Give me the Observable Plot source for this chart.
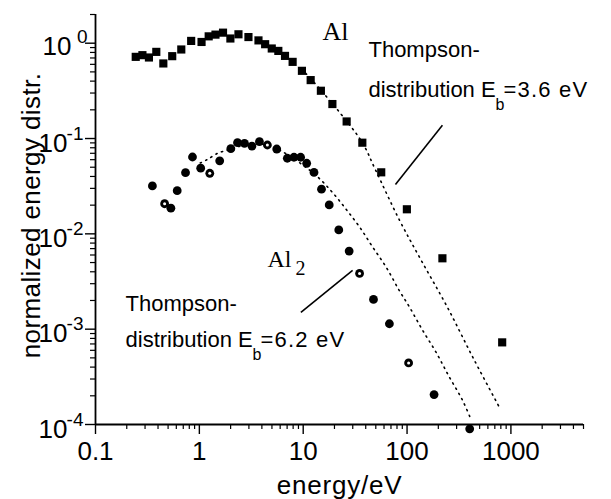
<!DOCTYPE html>
<html><head><meta charset="utf-8">
<script src="https://cdn.jsdelivr.net/npm/d3@7"></script>
<script src="https://cdn.jsdelivr.net/npm/@observablehq/plot@0.6"></script>
<style>
html,body{margin:0;padding:0;background:#fff;}
#chart svg{display:block;}
</style></head><body><div id="chart"></div>
<script>
// ---- data ----
const alEnergy = [0.244,0.283,0.327,0.385,0.45,0.548,0.67,0.834,1.05,1.23,1.43,1.69,1.99,2.38,2.97,3.71,4.30,4.98,5.76,6.68,7.91,9.72,11.8,14.8,19.1,26.2,37.1,56.4,99.6,219,824];
const alValue  = [0.719,0.749,0.708,0.811,0.613,0.731,0.859,1.057,1.03,1.18,1.23,1.29,1.12,1.24,1.16,1.07,0.976,0.88,0.83,0.736,0.637,0.513,0.41,0.317,0.23,0.151,0.0904,0.0442,0.0181,0.00554,0.000727];

const al2Energy = [0.353,0.463,0.532,0.612,0.736,0.859,1.03,1.26,1.57,2.01,2.33,2.72,3.21,3.79,4.52,5.56,7.03,8.15,9.44,10.8,12.7,15.0,17.8,22.0,27.7,34.9,47.5,67.6,103.5,182,401];
const al2Value  = [0.0318,0.0207,0.0186,0.0284,0.0438,0.064,0.0488,0.0432,0.0584,0.0782,0.0904,0.0891,0.0834,0.0926,0.0855,0.0776,0.0621,0.0636,0.0636,0.055,0.0441,0.0294,0.0201,0.0110,0.00659,0.00384,0.00205,0.00114,0.000443,0.000206,0.00009];
const al2HollowIdx = [1,7,14,25,28];

const thAlEnergy = [9.72,14.8,26.2,37.3,49.7,84.3,136,243,441,794];
const thAlValue  = [0.534,0.322,0.152,0.0897,0.0468,0.0140,0.00534,0.00172,0.00048,0.000144];

const thAl2Energy = [1.02,1.196,1.49,1.86,2.48,3.45,4.49,6.25,9.3,13.8,19.3,26.2,34.9,46.5,63.4,84.4,105,140,191,254,339,413];
const thAl2Value  = [0.0554,0.0603,0.0697,0.0758,0.0834,0.0875,0.0855,0.0731,0.0554,0.0395,0.0269,0.0178,0.0118,0.00731,0.00441,0.00253,0.00172,0.000989,0.000568,0.000318,0.000183,0.000113];

// leader lines [x1, y1, x2, y2]
const leaderX1 = [219, 9.5];
const leaderY1 = [0.138, 0.0015];
const leaderX2 = [77.3, 29.9];
const leaderY2 = [0.0329, 0.00414];

// tick values and labels
const xMajor = [0.1, 1, 10, 100, 1000];
const xTickLabels = ["0.1", "1", "10", "100", "1000"];
const yMajor = [1, 0.1, 0.01, 0.001, 0.0001];
const yExponents = ["0", "-1", "-2", "-3", "-4"];
const minorMult = [2,3,4,5,6,7,8,9];
const xDecades = [0.1, 1, 10, 100, 1000];
const yDecades = [0.0001, 0.001, 0.01, 0.1, 1];

// annotation texts
const headTexts = ["Thompson-", "Thompson-"];
const headX     = [42.5, 0.1945];
const headY     = [0.713, 0.001535];
const bodyTexts = ["distribution E", "distribution E"];
const bodyX     = [42.5, 0.1945];
const bodyY     = [0.271, 0.000643];
const tailTexts = ["=3.6 eV", "=6.2 eV"];
const tailX     = [849, 3.88];
const tailY     = [0.271, 0.000643];
const subTexts  = ["b", "b"];
const subX      = [711, 3.25];
const subY      = [0.198, 0.00047];
const serifTexts = ["Al", "Al"];
const serifX     = [15.3, 4.53];
const serifY     = [1.075, 0.00445];
const serifSize  = [26, 24];
const serifSubText = ["2"];
const serifSubX = [8.43];
const serifSubY = [0.00367];

const xTitle = "energy/eV";
const yTitle = "normalized energy distr.";

// ---- build ----
const xMinor = xDecades.flatMap(d => minorMult.map(m => d * m)).filter(v => v <= 5000);
const yMinor = yDecades.flatMap(d => minorMult.map(m => d * m)).filter(v => v <= 2);

const al = alEnergy.map((e, i) => ({e, v: alValue[i]}));
const al2 = al2Energy.map((e, i) => ({e, v: al2Value[i]}));
const al2Hollow = al2HollowIdx.map(i => al2[i]);
const thAl = thAlEnergy.map((e, i) => ({e, v: thAlValue[i]}));
const thAl2 = thAl2Energy.map((e, i) => ({e, v: thAl2Value[i]}));
const leaders = leaderX1.map((x, i) => ({x1: x, y1: leaderY1[i], x2: leaderX2[i], y2: leaderY2[i]}));
const heads = headTexts.map((t, i) => ({t, x: headX[i], y: headY[i]}));
const bodies = bodyTexts.map((t, i) => ({t, x: bodyX[i], y: bodyY[i]}));
const tails = tailTexts.map((t, i) => ({t, x: tailX[i], y: tailY[i]}));
const subs = subTexts.map((t, i) => ({t, x: subX[i], y: subY[i]}));
const serif = serifTexts.map((t, i) => ({t, x: serifX[i], y: serifY[i], s: serifSize[i]}));
const serifSub = serifSubText.map((t, i) => ({t, x: serifSubX[i], y: serifSubY[i]}));
const yLab = yMajor.map((v, i) => ({v, ex: yExponents[i]}));
const yLab0 = yLab.filter(d => d.ex === "0");
const yLabN = yLab.filter(d => d.ex !== "0");

const tickX = (opts) => Plot.axisTickX ? Plot.axisTickX(opts) : Plot.axisX({...opts, tickFormat: () => ""});
const tickY = (opts) => Plot.axisTickY ? Plot.axisTickY(opts) : Plot.axisY({...opts, tickFormat: () => ""});

const SANS = "'Liberation Sans', Arial, Helvetica, sans-serif";
const SERIF = "'Liberation Serif', 'Times New Roman', serif";

const chart = Plot.plot({
  width: 611,
  height: 499,
  marginLeft: 95,
  marginRight: 28,
  marginTop: 14,
  marginBottom: 75,
  x: {type: "log", domain: [0.1, 5000], axis: null},
  y: {type: "log", domain: [1e-4, 2], axis: null},
  style: {fontFamily: SANS, background: "#fff", color: "#000", overflow: "visible"},
  marks: [
    // axes
    tickX({ticks: xMajor, tickSize: 10, strokeWidth: 1.4, anchor: "bottom"}),
    tickX({ticks: xMinor, tickSize: 5, strokeWidth: 1.2, anchor: "bottom"}),
    tickY({ticks: yMajor, tickSize: 10, strokeWidth: 1.4, anchor: "left"}),
    tickY({ticks: yMinor, tickSize: 5, strokeWidth: 1.2, anchor: "left"}),
    Plot.ruleX([0.1], {strokeWidth: 1.8}),
    Plot.ruleY([1e-4], {strokeWidth: 1.8}),
    Plot.axisX({ticks: xMajor, tickSize: 10, tickPadding: 7, fontSize: 26, anchor: "bottom", label: null, stroke: "none",
      tickFormat: d => xTickLabels[xMajor.indexOf(d)]}),
    // y tick labels 10^n
    Plot.text(yLabN, {x: () => 0.1, y: "v", text: () => "10", textAnchor: "end", lineAnchor: "bottom", dx: -28, dy: 13, fontSize: 26}),
    Plot.text(yLabN, {x: () => 0.1, y: "v", text: "ex", textAnchor: "end", lineAnchor: "bottom", dx: -12, dy: 1, fontSize: 19}),
    Plot.text(yLab0, {x: () => 0.1, y: "v", text: () => "10", textAnchor: "end", lineAnchor: "bottom", dx: -24, dy: 12, fontSize: 26}),
    Plot.text(yLab0, {x: () => 0.1, y: "v", text: "ex", textAnchor: "end", lineAnchor: "bottom", dx: -8, dy: 0, fontSize: 19}),
    // axis titles
    Plot.text([xTitle], {frameAnchor: "bottom", textAnchor: "middle", lineAnchor: "bottom", dy: 69, fontSize: 26}),
    Plot.text([yTitle], {frameAnchor: "left", textAnchor: "middle", lineAnchor: "bottom", rotate: -90, dx: -56, dy: -4, fontSize: 26}),
    // Thompson distributions
    Plot.line(thAl, {x: "e", y: "v", curve: "catmull-rom", stroke: "#000", strokeWidth: 1.6, strokeDasharray: "1.3 4.7", strokeLinecap: "round"}),
    Plot.line(thAl2, {x: "e", y: "v", curve: "catmull-rom", stroke: "#000", strokeWidth: 1.6, strokeDasharray: "1.3 4.7", strokeLinecap: "round"}),
    // data
    Plot.dot(al, {x: "e", y: "v", symbol: "square", r: 4.6, fill: "#000", stroke: "none"}),
    Plot.dot(al2, {x: "e", y: "v", symbol: "circle", r: 4.4, fill: "#000", stroke: "none"}),
    Plot.dot(al2Hollow, {x: "e", y: "v", symbol: "circle", r: 1.5, fill: "#fff", stroke: "none"}),
    // leader lines
    Plot.link(leaders, {x1: "x1", y1: "y1", x2: "x2", y2: "y2", stroke: "#000", strokeWidth: 1.6}),
    // annotations
    Plot.text(heads, {x: "x", y: "y", text: "t", textAnchor: "start", lineAnchor: "bottom", fontSize: 22}),
    Plot.text(bodies, {x: "x", y: "y", text: "t", textAnchor: "start", lineAnchor: "bottom", fontSize: 22}),
    Plot.text(tails, {x: "x", y: "y", text: "t", textAnchor: "start", lineAnchor: "bottom", fontSize: 22}),
    Plot.text(subs, {x: "x", y: "y", text: "t", textAnchor: "start", lineAnchor: "bottom", fontSize: 16}),
    Plot.text(serif.filter(d => d.s === 26), {x: "x", y: "y", text: "t", textAnchor: "start", lineAnchor: "bottom", fontSize: 26, fontFamily: SERIF}),
    Plot.text(serif.filter(d => d.s === 24), {x: "x", y: "y", text: "t", textAnchor: "start", lineAnchor: "bottom", fontSize: 24, fontFamily: SERIF}),
    Plot.text(serifSub, {x: "x", y: "y", text: "t", textAnchor: "start", lineAnchor: "bottom", fontSize: 20, fontFamily: SERIF})
  ]
});
// slightly wider letter spacing, as in the scanned original
const spacing = new Map([["=3.6 eV", "1.2px"], ["=6.2 eV", "1.2px"], [yTitle, "0.4px"], [xTitle, "0.8px"]]);
d3.select(chart).selectAll("text").each(function() {
  const s = spacing.get(this.textContent);
  if (s) this.setAttribute("letter-spacing", s);
});
document.getElementById("chart").appendChild(chart);
</script></body></html>
